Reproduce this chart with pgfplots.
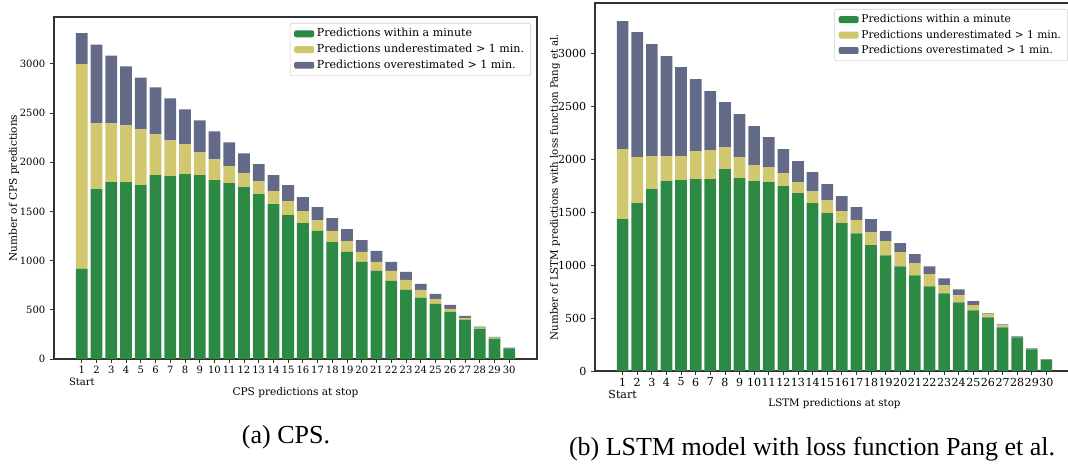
\documentclass[border=0pt]{standalone}
\usepackage{pgfplots}
\usepackage{pgfplotstable}
\pgfplotsset{compat=1.18}
\usepackage{fontspec}
\setmainfont{DejaVu Serif}
\newfontfamily\capfont{Liberation Serif}
\definecolor{cgreen}{HTML}{2D8A44}
\definecolor{cyellow}{HTML}{D1C76E}
\definecolor{cgray}{HTML}{636A87}

\pgfplotstableread{
x g u o
1 919 2077 315
2 1726 669 801
3 1797 598 689
4 1797 578 598
5 1767 567 527
6 1868 416 476
7 1858 365 425
8 1878 304 355
9 1868 233 324
10 1817 213 284
11 1787 172 243
12 1746 142 203
13 1675 132 173
14 1574 132 162
15 1463 142 162
16 1382 121 142
17 1301 111 132
18 1189 112 131
19 1088 111 122
20 986 102 121
21 895 91 112
22 794 101 91
23 703 101 81
24 622 81 60
25 561 50 51
26 480 30 41
27 399 20 20
28 307 11 10
29 206 10 10
30 105 0 10
}\cpsdata

\pgfplotstableread{
x g u o
1 1434 661 1210
2 1585 435 1181
3 1717 312 1059
4 1793 236 946
5 1802 227 842
6 1812 265 680
7 1812 274 558
8 1906 208 426
9 1821 199 406
10 1793 151 369
11 1783 142 284
12 1746 123 226
13 1679 104 199
14 1585 113 180
15 1490 123 152
16 1396 113 142
17 1301 123 123
18 1188 123 123
19 1093 133 94
20 989 133 85
21 904 114 85
22 800 114 75
23 734 76 66
24 649 66 57
25 573 48 38
26 507 29 9
27 413 19 9
28 318 3 7
29 205 2 7
30 104 0 6
}\lstmdata

\pgfplotsset{
  mybars/.style={
    scale only axis,
    ybar stacked, bar width=0.8,
    xmin=-0.89, xmax=31.89, ymin=0, ymax=3476,
    xtick={1,...,30},
    xticklabels={{1\\Start},2,3,4,5,6,7,8,9,10,11,12,13,14,15,16,17,18,19,20,21,22,23,24,25,26,27,28,29,30},
    xticklabel style={align=center, inner xsep=0pt, inner ysep=2pt},
    ytick={0,500,...,3000},
    tick align=outside, tick pos=left,
    major tick length=3pt,
    axis line style={black!80, line width=0.8pt},
    every tick/.style={black!80, line width=0.6pt},
    /pgf/number format/assume math mode=true,
    /pgf/number format/1000 sep={},
    scaled y ticks=false,
    legend cell align=left,
    legend image code/.code={\fill[##1] (0pt,-2.6pt) rectangle (15pt,2.6pt);},
    legend style={draw=black!20, fill=white,
      rounded corners=1.5pt, inner xsep=3pt, inner ysep=2pt,
      at={(axis description cs:1,1)}, anchor=north east, xshift=-4.5pt, yshift=-4.5pt},
  }
}

\begin{document}
\begin{tikzpicture}
\path[use as bounding box] (0,0) rectangle (801pt,349.5pt);

\begin{axis}[mybars,
  at={(40.5pt,80.25pt)}, anchor=south west,
  width=362.25pt, height=256.5pt,
  tick label style={font=\fontsize{7.5}{9}\selectfont},
  ylabel={Number of CPS predictions},
  xlabel={CPS predictions at stop},
  every axis y label/.style={at={(axis description cs:-0.0828,0.5)}, rotate=90, anchor=center, font=\fontsize{7.9}{9}\selectfont},
  every axis x label/.style={at={(axis description cs:0.5,-0.0994)}, anchor=center, font=\fontsize{7.9}{9}\selectfont},
  legend style={font=\fontsize{8.3}{12}\selectfont},
]
\addplot[fill=cgreen, draw=none] table[x=x,y=g]{\cpsdata};
\addplot[fill=cyellow, draw=none] table[x=x,y=u]{\cpsdata};
\addplot[fill=cgray, draw=none] table[x=x,y=o]{\cpsdata};
\legend{Predictions within a minute, Predictions underestimated > 1 min., Predictions overestimated > 1 min.}
\end{axis}

\begin{axis}[mybars,
  at={(446.25pt,71.25pt)}, anchor=south west,
  width=359.25pt, height=276pt,
  tick label style={font=\fontsize{8.3}{9.5}\selectfont},
  ylabel={Number of LSTM predictions with loss function Pang et al.},
  xlabel={LSTM predictions at stop},
  every axis y label/.style={at={(axis description cs:-0.0835,0.5)}, rotate=90, anchor=center, font=\fontsize{7.7}{9}\selectfont},
  every axis x label/.style={at={(axis description cs:0.5,-0.0897)}, anchor=center, font=\fontsize{7.7}{9}\selectfont},
  legend style={font=\fontsize{8.0}{11.3}\selectfont},
]
\addplot[fill=cgreen, draw=none] table[x=x,y=g]{\lstmdata};
\addplot[fill=cyellow, draw=none] table[x=x,y=u]{\lstmdata};
\addplot[fill=cgray, draw=none] table[x=x,y=o]{\lstmdata};
\legend{Predictions within a minute, Predictions underestimated > 1 min., Predictions overestimated > 1 min.}
\end{axis}

\node[font=\capfont\fontsize{19.5}{22}\selectfont] at (214.5pt,21.75pt) {(a) CPS.};
\node[font=\capfont\fontsize{19.5}{22}\selectfont] at (609pt,12.75pt) {(b) LSTM model with loss function Pang et al.};
\end{tikzpicture}
\end{document}
